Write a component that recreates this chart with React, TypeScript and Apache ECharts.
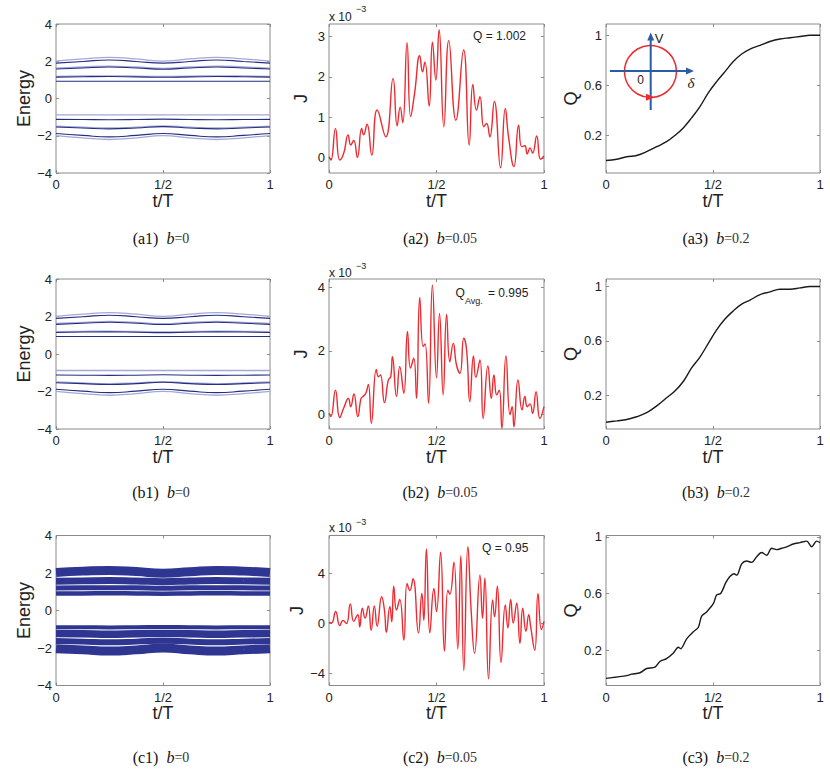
import React, { useEffect, useRef } from "react";
import * as echarts from "echarts";

type P = [number, number];

// ---------- energy levels (a1, b1) ----------
const tE = [0, 0.125, 0.25, 0.375, 0.5, 0.625, 0.75, 0.875, 1];
const eUp1Light = [2.01, 2.13, 2.21, 2.13, 2.01, 2.13, 2.21, 2.13, 2.01];
const eUp1 = [1.9, 1.99, 2.07, 1.99, 1.9, 1.99, 2.07, 1.99, 1.9];
const eUp2Light = [1.63, 1.69, 1.74, 1.69, 1.62, 1.69, 1.74, 1.69, 1.63];
const eUp2 = [1.58, 1.64, 1.69, 1.64, 1.57, 1.64, 1.69, 1.64, 1.58];
const eUp3Light = [1.19, 1.21, 1.22, 1.2, 1.18, 1.2, 1.22, 1.21, 1.19];
const eUp3 = [1.15, 1.17, 1.18, 1.16, 1.14, 1.16, 1.18, 1.17, 1.15];
const eUp4 = [0.93, 0.93, 0.93, 0.93, 0.93, 0.93, 0.93, 0.93, 0.93];
const eLo1Light = [-0.88, -0.88, -0.88, -0.88, -0.88, -0.88, -0.88, -0.88, -0.88];
const eLo2 = [-1.12, -1.13, -1.14, -1.13, -1.11, -1.13, -1.14, -1.13, -1.12];
const eLo3 = [-1.53, -1.58, -1.63, -1.58, -1.51, -1.58, -1.63, -1.58, -1.53];
const eLo3Light = [-1.49, -1.54, -1.58, -1.54, -1.47, -1.54, -1.58, -1.54, -1.49];
const eLo4 = [-1.88, -1.98, -2.06, -1.98, -1.88, -1.98, -2.06, -1.98, -1.88];
const eLo4Light = [-1.99, -2.11, -2.2, -2.11, -1.99, -2.11, -2.2, -2.11, -1.99];

// ---------- noisy bands (c1) ----------
const cBand1 = [2.03, 2.1, 2.14, 2.08, 1.99, 2.07, 2.14, 2.1, 2.03];
const cBand2 = [1.56, 1.58, 1.6, 1.57, 1.54, 1.57, 1.6, 1.58, 1.56];
const cBand3 = [1.2, 1.21, 1.22, 1.21, 1.19, 1.21, 1.22, 1.21, 1.2];
const cBand4 = [0.91, 0.91, 0.92, 0.91, 0.9, 0.91, 0.92, 0.91, 0.91];
const cBand5 = [-0.89, -0.89, -0.9, -0.89, -0.88, -0.89, -0.9, -0.89, -0.89];
const cBand6 = [-1.23, -1.24, -1.26, -1.24, -1.22, -1.24, -1.26, -1.24, -1.23];
const cBand7 = [-1.63, -1.66, -1.69, -1.66, -1.61, -1.66, -1.69, -1.66, -1.63];
const cBand8 = [-2.04, -2.1, -2.16, -2.1, -2.0, -2.1, -2.16, -2.1, -2.04];

// ---------- currents J (x 10^-3) ----------
const jA2: P[] = [
  [0.0, 0.03], [0.009, -0.05], [0.03, 0.73], [0.05, -0.05], [0.068, 0.11], [0.089, 0.57], [0.101, 0.32],
  [0.115, 0.43], [0.132, 0.01], [0.152, 0.73], [0.161, 0.57], [0.177, 0.83], [0.199, 0.07], [0.224, 1.18],
  [0.264, 0.52], [0.298, 1.96], [0.317, 0.79], [0.331, 1.25], [0.343, 0.87], [0.363, 2.84], [0.38, 1.02],
  [0.398, 1.59], [0.422, 2.52], [0.435, 2.12], [0.446, 2.36], [0.466, 1.28], [0.481, 2.85], [0.497, 1.92],
  [0.512, 3.16], [0.534, 0.77], [0.557, 2.89], [0.59, 0.93], [0.626, 2.66], [0.652, 0.32], [0.669, 1.81],
  [0.686, 1.18], [0.702, 1.51], [0.72, 0.77], [0.733, 0.85], [0.748, 0.52], [0.769, 1.39], [0.798, -0.24],
  [0.82, 1.22], [0.835, 0.52], [0.86, -0.21], [0.882, 0.81], [0.896, 0.28], [0.911, 0.3], [0.922, 0.1],
  [0.935, 0.25], [0.947, 0.12], [0.966, 0.54], [0.984, -0.03], [1.0, 0.05],
];
const jB2: P[] = [
  [0.0, 0.04], [0.009, -0.06], [0.03, 0.77], [0.05, -0.09], [0.068, 0.2], [0.09, 0.51], [0.101, 0.25],
  [0.116, 0.65], [0.134, -0.06], [0.149, 0.51], [0.158, 0.57], [0.171, 0.67], [0.183, 0.95], [0.197, -0.27],
  [0.22, 1.42], [0.23, 1.19], [0.239, 1.25], [0.258, 0.38], [0.276, 1.09], [0.287, 1.19], [0.295, 1.82],
  [0.314, 0.57], [0.329, 1.51], [0.348, 0.67], [0.365, 2.61], [0.379, 1.46], [0.394, 1.77], [0.407, 0.51],
  [0.422, 3.68], [0.438, 2.14], [0.447, 2.22], [0.463, 0.36], [0.481, 4.07], [0.5, 1.16], [0.514, 3.18],
  [0.531, 0.62], [0.547, 3.15], [0.562, 1.66], [0.578, 2.24], [0.593, 1.56], [0.609, 1.3], [0.627, 2.4],
  [0.64, 2.03], [0.655, 0.41], [0.672, 1.84], [0.683, 1.17], [0.702, 1.72], [0.717, -0.12], [0.739, 1.53],
  [0.755, 0.51], [0.767, 1.25], [0.78, 0.62], [0.792, 0.77], [0.804, -0.43], [0.823, 1.84], [0.842, 0.0],
  [0.852, 0.25], [0.86, -0.38], [0.879, 1.09], [0.898, 0.15], [0.911, 0.57], [0.922, 0.25], [0.935, 0.34],
  [0.947, 0.04], [0.963, 0.72], [0.981, -0.12], [1.0, 0.25],
];
const jC2: P[] = [
  [0.0, 0.05], [0.012, 0.0], [0.031, 0.92], [0.05, -0.21], [0.065, 0.21], [0.081, -0.05], [0.099, 1.53],
  [0.115, 0.13], [0.134, 0.66], [0.143, -0.32], [0.155, 1.18], [0.168, 0.39], [0.183, 1.37], [0.196, -0.58],
  [0.211, 1.37], [0.224, -0.26], [0.245, 2.1], [0.258, 1.0], [0.267, -0.74], [0.283, 1.32], [0.292, 0.1],
  [0.301, 2.95], [0.314, 1.05], [0.329, 1.89], [0.348, -1.37], [0.363, 3.16], [0.376, 2.6], [0.391, 3.55],
  [0.416, -0.79], [0.432, 2.37], [0.441, 0.2], [0.453, 5.92], [0.469, -0.79], [0.488, 2.76], [0.5, 0.92],
  [0.519, 5.66], [0.537, -2.24], [0.553, 2.63], [0.562, 2.3], [0.581, 4.87], [0.599, -2.08], [0.613, 5.39],
  [0.627, -3.82], [0.646, 6.11], [0.661, 1.05], [0.677, -2.42], [0.702, 3.82], [0.714, 0.39], [0.725, 3.61],
  [0.742, -4.47], [0.761, 1.84], [0.77, 0.5], [0.783, 2.95], [0.8, -3.16], [0.82, 1.45], [0.832, -0.39],
  [0.845, 1.89], [0.857, 0.0], [0.873, 1.58], [0.888, -1.63], [0.901, 1.18], [0.916, -0.66], [0.929, 0.66],
  [0.938, -0.3], [0.957, -2.18], [0.972, 2.37], [0.988, -0.53], [1.0, 0.13],
];

// ---------- pumped charge Q ----------
const tQ = [0, 0.05, 0.097, 0.143, 0.19, 0.237, 0.283, 0.322, 0.361, 0.4, 0.439, 0.478, 0.517, 0.556, 0.595,
  0.634, 0.673, 0.72, 0.766, 0.813, 0.86, 0.907, 0.953, 1];
const qA3 = [0.0, 0.01, 0.03, 0.04, 0.07, 0.11, 0.15, 0.2, 0.26, 0.34, 0.43, 0.54, 0.63, 0.71, 0.79, 0.85,
  0.89, 0.92, 0.95, 0.97, 0.98, 0.99, 1.0, 1.0];
const qB3 = [0.0, 0.01, 0.02, 0.04, 0.07, 0.12, 0.18, 0.23, 0.3, 0.4, 0.48, 0.58, 0.68, 0.76, 0.82, 0.87,
  0.9, 0.94, 0.96, 0.98, 0.98, 0.99, 1.0, 1.0];
const qC3: P[] = [
  [0, 0.0], [0.05, 0.01], [0.097, 0.02], [0.12, 0.03], [0.159, 0.04], [0.19, 0.07], [0.229, 0.08], [0.252, 0.12],
  [0.283, 0.14], [0.315, 0.18], [0.338, 0.22], [0.349, 0.21], [0.377, 0.28], [0.408, 0.33], [0.431, 0.36],
  [0.447, 0.44], [0.47, 0.47], [0.502, 0.53], [0.517, 0.59], [0.536, 0.6], [0.561, 0.68], [0.579, 0.72],
  [0.598, 0.74], [0.611, 0.73], [0.634, 0.81], [0.657, 0.83], [0.681, 0.82], [0.704, 0.86], [0.727, 0.89],
  [0.751, 0.87], [0.774, 0.92], [0.798, 0.91], [0.821, 0.92], [0.844, 0.93], [0.875, 0.95], [0.907, 0.96],
  [0.938, 0.97], [0.961, 0.93], [0.984, 0.97], [1.0, 0.96],
];

// ---------- tick labels / texts ----------
const xTickLabels: Record<string, string> = { "0": "0", "0.5": "1/2", "1": "1" };
const jTicksA = [0, 1, 2, 3];
const jTicksB = [0, 2, 4];
const jTicksC = [-4, 0, 4];
const qTicks = [0.2, 0.6, 1];
const captionIds = ["a1", "a2", "a3", "b1", "b2", "b3", "c1", "c2", "c3"];
const captionB = ["0", "0.05", "0.2"];
const qNotes = ["Q = 1.002", "= 0.995", "Q = 0.95"];

const NAVY = "#252e80";
const LIGHT = "#a4a8d6";
const BAND = "#2f3692";
const RED = "#ee2a30";
const BLACK = "#1a1a1a";
const BOX = "#8a8a8a";
const TXT = "#222";
const SANS = "Liberation Sans, Arial, Helvetica, sans-serif";
const SERIF = "Liberation Serif, Times New Roman, serif";

const COL_LEFT = [56, 329, 606];
const COL_W = [214, 215, 214];
const ROW_TOP = [24, 279, 535.5];
const ROW_H = [149, 150, 150];
const CAP_X = [161, 440, 716];
const CAP_Y = [238, 492, 757];

const pairs = (t: number[], v: number[]): P[] => t.map((x, i) => [x, v[i]]);
const fmtNum = (v: number) => (v < 0 ? "\u2212" + Math.abs(v) : String(v));

export default function App() {
  const ref = useRef<HTMLDivElement>(null);

  useEffect(() => {
    const chart = echarts.init(ref.current!, null, { renderer: "svg" });

    const grids: any[] = [];
    const xAxes: any[] = [];
    const xTop: any[] = [];
    const yAxes: any[] = [];
    const yRight: any[] = [];
    const series: any[] = [];

    const yKinds = [
      { kind: "E" }, { kind: "J", min: -0.37, max: 3.3, ticks: jTicksA }, { kind: "Q", min: -0.1, max: 1.09 },
      { kind: "E" }, { kind: "J", min: -0.45, max: 4.26, ticks: jTicksB }, { kind: "Q", min: -0.05, max: 1.055 },
      { kind: "E" }, { kind: "J", min: -5, max: 7, ticks: jTicksC }, { kind: "Q", min: -0.05, max: 1.01 },
    ];

    const tickStyle = { inside: true, length: 3, lineStyle: { color: BOX, width: 1 } };
    const noLine = { show: false, onZero: false };

    for (let r = 0; r < 3; r++) {
      for (let c = 0; c < 3; c++) {
        const gi = r * 3 + c;
        grids.push({
          left: COL_LEFT[c], top: ROW_TOP[r], width: COL_W[c], height: ROW_H[r],
          show: true, borderColor: BOX, borderWidth: 1, containLabel: false,
        });
        xAxes.push({
          type: "value", gridIndex: gi, position: "bottom", min: 0, max: 1, interval: 0.5,
          axisLine: noLine, axisTick: tickStyle, splitLine: { show: false },
          axisLabel: {
            formatter: (v: number) => xTickLabels[String(v)] ?? "",
            fontSize: 13, color: TXT, fontFamily: SANS, margin: 5,
          },
          name: "t/T", nameLocation: "middle", nameGap: 16,
          nameTextStyle: { fontSize: 18, color: TXT, fontFamily: SANS },
        });
        xTop.push({
          type: "value", gridIndex: gi, position: "top", min: 0, max: 1, interval: 0.5,
          axisLine: noLine, axisTick: tickStyle, axisLabel: { show: false }, splitLine: { show: false },
        });
        const k: any = yKinds[gi];
        let y: any;
        if (k.kind === "E") {
          y = { min: -4, max: 4, interval: 2, name: "Energy", nameGap: 22 };
        } else if (k.kind === "J") {
          y = { min: k.min, max: k.max, name: "J", nameGap: 19, custom: k.ticks };
        } else {
          y = { min: k.min, max: k.max, name: "Q", nameGap: 25, custom: qTicks };
        }
        const base: any = {
          type: "value", gridIndex: gi, min: y.min, max: y.max,
          axisLine: noLine, splitLine: { show: false },
        };
        if (y.interval) base.interval = y.interval;
        yAxes.push({
          ...base, position: "left",
          axisTick: y.custom ? { ...tickStyle, customValues: y.custom } : tickStyle,
          axisLabel: {
            fontSize: 13, color: TXT, fontFamily: SANS, margin: 4, formatter: fmtNum,
            ...(y.custom ? { customValues: y.custom } : {}),
          },
          name: y.name, nameLocation: "middle", nameRotate: 90, nameGap: y.nameGap,
          nameTextStyle: { fontSize: 18, color: TXT, fontFamily: SANS },
        });
        yRight.push({
          ...base, position: "right",
          axisTick: y.custom ? { ...tickStyle, customValues: y.custom } : tickStyle,
          axisLabel: { show: false },
        });
      }
    }

    const line = (gi: number, data: P[], color: string, width: number, smooth: number | boolean, z = 2) => ({
      type: "line", xAxisIndex: gi, yAxisIndex: gi, data, showSymbol: false, symbol: "none",
      smooth, lineStyle: { color, width }, z, silent: true,
    });

    // a1 & b1 energy levels
    for (const gi of [0, 3]) {
      const lights = [eUp1Light, eUp2Light, eUp3Light, eLo1Light, eLo3Light, eLo4Light];
      const navies = [eUp1, eUp2, eUp3, eUp4, eLo2, eLo3, eLo4];
      lights.forEach((v) => series.push(line(gi, pairs(tE, v), LIGHT, 1.3, true, 2)));
      navies.forEach((v) => series.push(line(gi, pairs(tE, v), NAVY, 1.1, true, 3)));
    }
    // c1 noisy bands
    const bands: [number[], number][] = [
      [cBand1, 9], [cBand2, 7], [cBand3, 5], [cBand4, 4.5],
      [cBand5, 4], [cBand6, 7.5], [cBand7, 6], [cBand8, 9],
    ];
    bands.forEach(([v, w]) => series.push(line(6, pairs(tE, v), BAND, w, true)));

    // J currents
    series.push(line(1, jA2, RED, 1.4, 0.5));
    series.push(line(4, jB2, RED, 1.4, 0.5));
    series.push(line(7, jC2, RED, 1.4, 0.5));

    // Q
    series.push(line(2, pairs(tQ, qA3), BLACK, 1.4, 0.4));
    series.push(line(5, pairs(tQ, qB3), BLACK, 1.4, 0.4));
    series.push(line(8, qC3, BLACK, 1.4, 0.3));

    // ---------- graphics ----------
    const graphic: any[] = [];
    captionIds.forEach((id, i) => {
      const r = Math.floor(i / 3);
      const c = i % 3;
      graphic.push({
        type: "text", x: CAP_X[c], y: CAP_Y[r], silent: true,
        style: {
          text: `{n|(${id})}  {i|b}{s|=${captionB[c]}}`,
          align: "center", verticalAlign: "middle",
          fontFamily: SERIF, fontSize: 16, fill: "#111",
          rich: {
            n: { fontFamily: SERIF, fontSize: 16, fill: "#111" },
            i: { fontFamily: SERIF, fontSize: 16, fontStyle: "italic", fill: "#111" },
            s: { fontFamily: SERIF, fontSize: 14, fill: "#333" },
          },
        },
      });
    });
    // x 10^-3 multipliers
    const multY = [[16.7, 9], [272.5, 265.5], [528.3, 521.5]];
    multY.forEach(([ym, ys]) => {
      graphic.push({ type: "text", x: 329, y: ym, silent: true,
        style: { text: "x 10", fontSize: 12, fontFamily: SANS, fill: TXT, align: "left", verticalAlign: "middle" } });
      graphic.push({ type: "text", x: 356, y: ys, silent: true,
        style: { text: "\u22123", fontSize: 9, fontFamily: SANS, fill: TXT, align: "left", verticalAlign: "middle" } });
    });
    // Q annotations
    graphic.push({ type: "text", x: 473, y: 36, silent: true,
      style: { text: qNotes[0], fontSize: 12, fontFamily: SANS, fill: TXT, align: "left", verticalAlign: "middle" } });
    graphic.push({ type: "text", x: 455.5, y: 293.3, silent: true,
      style: { text: "Q", fontSize: 12, fontFamily: SANS, fill: TXT, align: "left", verticalAlign: "middle" } });
    graphic.push({ type: "text", x: 465, y: 301, silent: true,
      style: { text: "Avg.", fontSize: 9, fontFamily: SANS, fill: TXT, align: "left", verticalAlign: "middle" } });
    graphic.push({ type: "text", x: 488, y: 293.3, silent: true,
      style: { text: qNotes[1], fontSize: 12, fontFamily: SANS, fill: TXT, align: "left", verticalAlign: "middle" } });
    graphic.push({ type: "text", x: 482, y: 548, silent: true,
      style: { text: qNotes[2], fontSize: 12, fontFamily: SANS, fill: TXT, align: "left", verticalAlign: "middle" } });

    // inset schematic in a3
    const BLUE = "#2a5ba6";
    graphic.push({ type: "circle", silent: true, shape: { cx: 650.5, cy: 71.5, r: 26 },
      style: { fill: "none", stroke: RED, lineWidth: 1.5 }, z: 10 });
    graphic.push({ type: "line", silent: true, shape: { x1: 610, y1: 71, x2: 690, y2: 71 },
      style: { stroke: BLUE, lineWidth: 2 }, z: 11 });
    graphic.push({ type: "polygon", silent: true, shape: { points: [[694, 71], [686, 67.5], [686, 74.5]] },
      style: { fill: BLUE }, z: 11 });
    graphic.push({ type: "line", silent: true, shape: { x1: 650.7, y1: 110, x2: 650.7, y2: 37 },
      style: { stroke: BLUE, lineWidth: 2 }, z: 11 });
    graphic.push({ type: "polygon", silent: true, shape: { points: [[650.7, 32.5], [647.2, 40.5], [654.2, 40.5]] },
      style: { fill: BLUE }, z: 11 });
    graphic.push({ type: "polygon", silent: true, shape: { points: [[646, 93.8], [654.5, 97.3], [646, 100.8]] },
      style: { fill: RED }, z: 12 });
    graphic.push({ type: "text", x: 659, y: 38, silent: true, z: 12,
      style: { text: "V", fontSize: 13, fontFamily: SANS, fill: TXT, align: "center", verticalAlign: "middle" } });
    graphic.push({ type: "text", x: 691, y: 83, silent: true, z: 12,
      style: { text: "\u03b4", fontSize: 15, fontStyle: "italic", fontFamily: SERIF, fill: TXT, align: "center", verticalAlign: "middle" } });
    graphic.push({ type: "text", x: 640.5, y: 80, silent: true, z: 12,
      style: { text: "0", fontSize: 12, fontFamily: SANS, fill: TXT, align: "center", verticalAlign: "middle" } });

    chart.setOption({
      animation: false,
      backgroundColor: "#fff",
      grid: grids,
      xAxis: [...xAxes, ...xTop],
      yAxis: [...yAxes, ...yRight],
      series,
      graphic,
    });
    return () => chart.dispose();
  }, []);

  return <div ref={ref} style={{ position: "fixed", left: 0, top: 0, width: 830, height: 771 }} />;
}
